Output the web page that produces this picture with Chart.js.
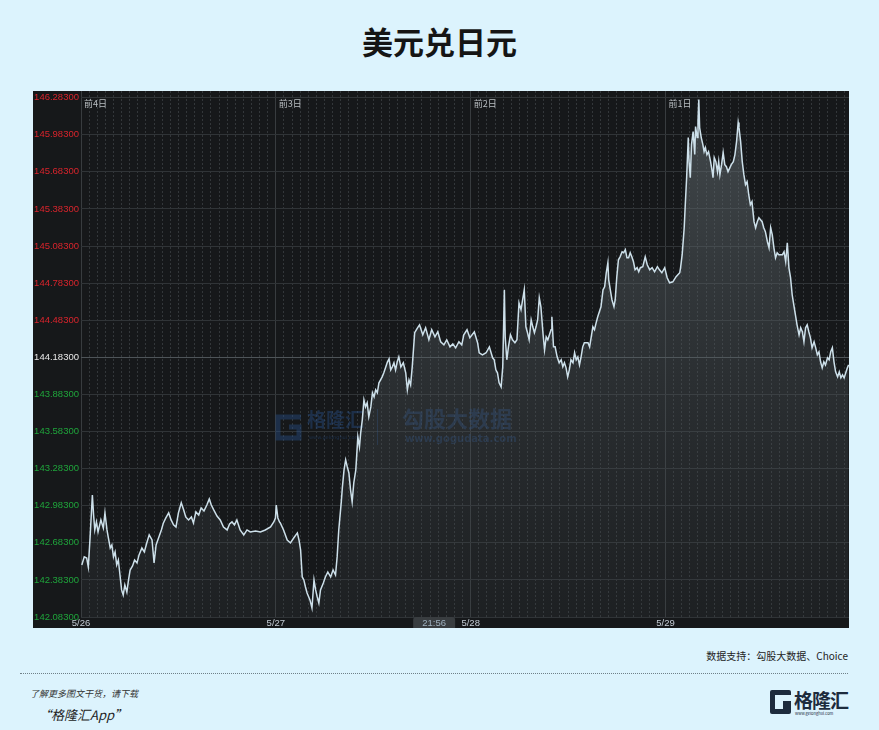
<!DOCTYPE html>
<html><head><meta charset="utf-8">
<script src="https://cdn.jsdelivr.net/npm/chart.js@4.4.1/dist/chart.umd.min.js"></script>
<style>
html,body{margin:0;padding:0;}
body{width:879px;height:730px;background:#dcf3fd;position:relative;overflow:hidden;font-family:"Noto Sans CJK SC","Noto Sans",sans-serif;}
#title{position:absolute;left:0;top:19px;width:879px;text-align:center;font-size:31px;font-weight:bold;color:#151515;line-height:44px;}
#wrap{position:absolute;left:33px;top:91px;width:816px;height:537px;}
#src{position:absolute;right:31px;top:649px;font-size:10px;color:#222;line-height:14px;}
#sep{position:absolute;left:20px;top:673px;width:828px;border-top:1px dotted #6f8088;}
#dl{position:absolute;left:30px;top:688px;font-size:9px;font-style:italic;color:#333;line-height:12px;}
#app{position:absolute;left:38px;top:706px;font-size:13px;font-style:italic;color:#222;line-height:18px;}
#gicon{position:absolute;left:770px;top:690px;width:21px;height:24px;background:#1d2b3d;border-radius:2px;}
#gicon .a{position:absolute;left:5px;top:5px;width:16px;height:6px;background:#dcf3fd;}
#gicon .b{position:absolute;left:5px;top:11px;width:8px;height:8px;background:#dcf3fd;}
#ltext{position:absolute;left:794px;top:687px;font-size:19px;font-weight:bold;color:#1d2b3d;line-height:26px;letter-spacing:-1px;}
#lurl{position:absolute;left:795px;top:711px;font-size:4px;color:#1d2b3d;line-height:5px;}
</style></head>
<body>
<div id="title">美元兑日元</div>
<div id="wrap"><canvas id="c" width="816" height="537"></canvas></div>
<div id="src">数据支持：勾股大数据、Choice</div>
<div id="sep"></div>
<div id="dl">了解更多图文干货，请下载</div>
<div id="app">“格隆汇App”</div>
<div id="gicon"><div class="a"></div><div class="b"></div></div>
<div id="ltext">格隆汇</div>
<div id="lurl">www.gelonghui.com</div>
<script>
// time in hours since 5/26 00:00 (chart start)
const hours = [
0.1,0.4,0.7,0.9,1.1,1.4,1.55,1.7,1.9,2.1,2.45,2.75,2.95,3.2,3.35,3.6,3.8,4.0,4.2,4.4,4.6,4.8,5.0,5.2,5.4,5.65,5.85,6.05,6.35,6.6,6.9,7.15,7.5,7.8,8.1,8.4,8.75,9.0,9.25,9.55,9.9,10.15,10.45,10.8,11.1,11.4,11.7,12.0,12.35,12.65,12.9,13.25,13.6,13.85,14.15,14.5,14.8,15.15,15.5,15.8,16.05,16.35,16.75,17.15,17.55,18.0,18.3,18.6,18.9,19.2,19.6,20.05,20.45,20.85,21.5,22.1,22.7,23.35,23.75,23.95,24.05,24.25,24.45,
24.55,24.95,25.4,25.8,26.2,26.65,26.85,27.05,27.25,27.45,27.65,27.85,28.2,28.45,28.7,28.9,29.1,29.3,29.5,29.85,30.1,30.4,30.75,31.05,31.35,31.55,31.75,32.05,32.2,32.4,32.6,32.8,33.0,33.2,33.4,33.6,33.85,33.95,34.1,34.3,34.45,34.65,34.85,35.05,35.25,35.45,35.7,35.9,36.1,36.3,36.5,36.7,36.9,37.1,37.3,37.55,37.75,37.95,38.15,38.35,38.55,38.75,38.95,39.15,39.4,39.7,40.0,40.2,40.4,40.6,40.8,40.95,41.1,41.45,41.7,42.1,42.45,42.85,43.2,43.6,43.95,44.3,44.7,45.05,45.45,45.8,46.15,46.55,46.9,47.15,47.55,47.9,
48.45,48.85,49.05,49.45,49.9,50.3,50.7,50.9,51.1,51.3,51.5,51.75,51.95,52.15,52.25,52.45,52.65,52.9,53.15,53.45,53.7,53.95,54.2,54.4,54.6,54.8,55.0,55.2,55.45,55.65,55.85,56.05,56.25,56.45,56.65,56.9,57.1,57.3,57.5,57.9,58.0,58.2,58.4,58.65,58.9,59.15,59.35,59.55,59.75,59.95,60.15,60.35,60.6,60.8,61.0,61.2,61.4,61.6,61.8,62.0,62.45,62.65,62.85,63.05,63.25,63.45,63.65,64.05,64.3,64.5,64.7,64.9,65.0,65.2,65.4,65.65,65.8,66.0,66.2,66.4,66.65,66.85,67.05,67.25,67.45,67.65,67.85,68.05,68.25,68.5,68.7,68.9,69.2,69.5,69.75,70.05,70.35,70.65,71.0,71.25,71.55,71.9,72.2,72.5,72.9,73.3,73.75,
73.85,74.05,74.3,74.45,74.6,74.8,74.9,75.05,75.2,75.4,75.6,75.7,75.9,76.0,76.1,76.2,76.4,76.6,76.75,76.9,77.1,77.3,77.55,77.75,77.85,78.0,78.2,78.4,78.55,78.7,78.9,79.1,79.3,79.5,79.7,80.1,80.35,80.55,80.75,80.95,81.05,81.25,81.45,81.65,81.85,82.05,82.25,82.45,82.65,82.9,83.1,83.3,83.5,83.7,83.9,84.1,84.3,84.55,84.75,84.95,85.15,85.35,85.55,85.75,85.95,86.4,86.6,86.8,87.0,87.2,87.4,87.6,87.8,88.0,88.2,88.45,88.65,88.85,89.05,89.25,89.45,89.65,89.85,90.05,90.3,90.5,90.7,90.9,91.1,91.3,91.5,91.7,91.95,92.15,92.35,92.55,92.75,92.95,93.2,93.4,93.6,93.8,94.0,94.2,94.4,94.55
];
const rates = [
142.504,142.569,142.560,142.488,142.706,143.070,142.908,142.787,142.852,142.771,142.868,142.803,142.925,142.787,142.731,142.641,142.666,142.569,142.609,142.504,142.544,142.423,142.302,142.261,142.342,142.285,142.382,142.463,142.496,142.544,142.520,142.585,142.641,142.609,142.682,142.747,142.706,142.520,142.666,142.722,142.787,142.844,142.884,142.925,142.868,142.828,142.811,142.925,143.006,142.949,142.892,142.868,142.892,142.844,142.933,142.908,142.965,142.941,142.989,143.038,142.989,142.949,142.900,142.868,142.811,142.787,142.836,142.852,142.828,142.868,142.787,142.747,142.787,142.771,142.779,142.771,142.787,142.811,142.852,142.884,142.989,142.884,142.852,
142.844,142.787,142.706,142.682,142.722,142.763,142.706,142.625,142.407,142.383,142.326,142.277,142.221,142.156,142.383,142.302,142.245,142.196,142.302,142.358,142.407,142.447,142.407,142.463,142.423,142.569,142.787,143.006,143.135,143.273,143.354,143.297,143.248,143.111,143.014,143.167,143.273,143.378,143.540,143.459,143.572,143.677,143.839,143.782,143.815,143.702,143.782,143.896,143.863,143.920,143.896,143.977,144.001,144.025,144.058,144.106,144.147,144.171,144.082,144.106,144.139,144.082,144.147,144.187,144.106,144.139,144.058,143.920,144.001,143.960,144.106,144.244,144.382,144.422,144.446,144.365,144.422,144.325,144.406,144.349,144.390,144.309,144.284,144.325,144.268,144.292,144.260,144.309,144.284,144.365,144.406,144.341,
144.389,144.301,144.220,144.203,144.220,144.268,144.179,144.163,144.082,144.058,143.977,143.944,144.106,144.729,144.349,144.163,144.268,144.365,144.325,144.301,144.325,144.624,144.568,144.649,144.729,144.430,144.382,144.325,144.487,144.430,144.382,144.430,144.487,144.665,144.592,144.382,144.244,144.349,144.325,144.406,144.511,144.268,144.268,144.187,144.139,144.163,144.106,144.139,144.098,144.025,144.082,144.163,144.139,144.220,144.163,144.187,144.122,144.187,144.268,144.301,144.301,144.268,144.349,144.430,144.406,144.462,144.511,144.592,144.729,144.754,144.867,144.948,144.810,144.729,144.649,144.592,144.649,144.835,144.972,144.996,145.037,145.029,145.053,144.988,144.988,145.029,144.996,144.956,144.891,144.908,144.875,144.908,144.916,144.996,144.932,144.891,144.908,144.875,144.916,144.891,144.867,144.908,144.827,144.786,144.794,144.835,144.867,
144.907,145.013,145.231,145.442,145.636,145.960,145.766,145.636,145.903,146.009,145.823,146.049,145.960,146.090,146.268,146.041,145.960,145.903,145.847,145.879,145.823,145.847,145.766,145.685,145.636,145.798,145.766,145.685,145.766,145.660,145.741,145.838,145.741,145.725,145.685,145.741,145.766,145.823,145.928,146.082,146.041,145.928,145.766,145.660,145.579,145.604,145.498,145.417,145.442,145.280,145.231,145.280,145.312,145.296,145.280,145.231,145.199,145.118,145.069,145.231,145.174,145.069,144.988,145.029,145.013,145.013,145.037,144.956,145.110,144.907,144.827,144.689,144.608,144.527,144.446,144.365,144.422,144.390,144.309,144.422,144.446,144.390,144.341,144.260,144.309,144.260,144.203,144.228,144.147,144.098,144.147,144.122,144.179,144.163,144.228,144.260,144.147,144.066,144.025,144.066,144.017,144.041,144.017,144.058,144.098,144.122
];
const yTicks = [142.083,142.383,142.683,142.983,143.283,143.583,143.883,144.183,144.483,144.783,145.083,145.383,145.683,145.983,146.283];
const prevClose = 144.183;
const dayTicks = [0,24,48,72];
const dayLabels = ['5/26','5/27','5/28','5/29'];
const dayTags = ['前4日','前3日','前2日','前1日'];
const hourTicks = [1,2,3,4,5,6,7,8,9,10,11,12,13,14,15,16,17,18,19,20,21,22,23,25,26,27,28,29,30,31,32,33,34,35,36,37,38,39,40,41,42,43,44,45,46,47,49,50,51,52,53,54,55,56,57,58,59,60,61,62,63,64,65,66,67,68,69,70,71,73,74,75,76,77,78,79,80,81,82,83,84,85,86,87,88,89,90,91,92,93,94];
const cursorHour = 43.5, cursorLabel = '21:56';

const points = hours.map((h,i)=>({x:h,y:rates[i]}));

const deco = {
  id:'deco',
  beforeDraw(chart){
    const c=chart.ctx; c.save(); c.fillStyle='#16181a'; c.fillRect(0,0,chart.width,chart.height); c.restore();
  },
  beforeDatasetsDraw(chart){
    const c=chart.ctx; c.save();
    const col='rgba(40,80,138,0.42)';
    c.strokeStyle=col; c.fillStyle=col; c.lineWidth=5;
    c.beginPath(); c.moveTo(268,326); c.lineTo(245,326); c.lineTo(245,347); c.lineTo(266,347); c.lineTo(266,336); c.lineTo(256,336); c.stroke();
    c.textBaseline='top'; c.textAlign='left';
    c.font='bold 19px "Noto Sans CJK SC"'; c.fillText('格隆汇',274,319);
    c.font='5px "DejaVu Sans"'; c.fillText('www.gelonghui.com',276,344);
    c.fillRect(344,318,1,36);
    c.font='bold 22px "Noto Sans CJK SC"'; c.fillText('勾股大数据',369,317);
    c.font='bold 10px "DejaVu Sans"'; c.fillText('www.gogudata.com',372,343);
    c.restore();
  },
  afterDraw(chart){
    const c=chart.ctx, xs=chart.scales.x, ca=chart.chartArea;
    c.save();
    c.font='9px "Noto Sans CJK SC"'; c.fillStyle='#b9bec2'; c.textBaseline='middle'; c.textAlign='left';
    dayTicks.forEach((d,i)=>c.fillText(dayTags[i], xs.getPixelForValue(d)+3, ca.top+13));
    const bx=xs.getPixelForValue(cursorHour);
    c.fillStyle='#393d40';
    c.beginPath(); c.roundRect(bx-21, ca.bottom, 42, chart.height-ca.bottom, [3,3,0,0]); c.fill();
    c.fillStyle='#9fb1bf'; c.font='9.5px "Liberation Sans"'; c.textAlign='center';
    c.fillText(cursorLabel, bx, ca.bottom+6);
    c.restore();
  }
};

new Chart(document.getElementById('c'),{
  type:'line',
  data:{datasets:[{
    data:points,
    borderColor:'#cde0ea', borderWidth:1.5, pointRadius:0, tension:0,
    fill:'start',
    backgroundColor:(ctx)=>{
      const ch=ctx.chart, ca=ch.chartArea; if(!ca) return 'rgba(0,0,0,0)';
      const g=ch.ctx.createLinearGradient(0,ca.top,0,ca.bottom);
      g.addColorStop(0,'rgba(105,115,120,0.55)');
      g.addColorStop(1,'rgba(60,66,70,0.2)');
      return g;
    }
  }]},
  options:{
    responsive:false, animation:false, devicePixelRatio:1,
    layout:{padding:0},
    plugins:{legend:{display:false}, tooltip:{enabled:false}},
    scales:{
      xh:{type:'linear',min:0,max:94.6,position:'bottom',weight:0,
        afterBuildTicks(s){s.ticks=hourTicks.map(v=>({value:v}));},
        ticks:{display:false},
        grid:{color:'#33373a',drawTicks:false},
        border:{display:false,dash:[2,2]},
        afterFit(s){s.height=0;s.paddingLeft=0;s.paddingRight=0;}
      },
      x:{type:'linear',min:0,max:94.6,position:'bottom',weight:1,
        afterBuildTicks(s){s.ticks=dayTicks.map(v=>({value:v}));},
        ticks:{autoSkip:false,maxRotation:0,padding:1,color:'#c3ccd5',font:{size:9.5,family:'Liberation Sans'},
          callback:(v)=>{const i=dayTicks.indexOf(v);return i>=0?dayLabels[i]:'';}},
        grid:{color:'#383c3f',drawTicks:false},
        border:{display:false},
        afterFit(s){s.height=11;s.paddingLeft=0;s.paddingRight=0;}
      },
      y:{type:'linear',min:142.083,max:146.337,position:'left',
        afterBuildTicks(s){s.ticks=yTicks.map(v=>({value:v}));},
        ticks:{padding:2,font:{size:9.5,family:'Liberation Sans'},
          color:(ctx)=>{const v=ctx.tick.value; return v>prevClose+1e-6?'#d8242c':(v<prevClose-1e-6?'#1fa43b':'#e8e8e8');},
          callback:(v)=>Number(v).toFixed(5)},
        grid:{color:(ctx)=>Math.abs(ctx.tick.value-prevClose)<1e-6?'#4e5458':'#303437',drawTicks:false},
        border:{display:false},
        afterFit(s){s.width=48;s.paddingTop=0;s.paddingBottom=0;}
      }
    }
  },
  plugins:[deco]
});
</script>
</body></html>
